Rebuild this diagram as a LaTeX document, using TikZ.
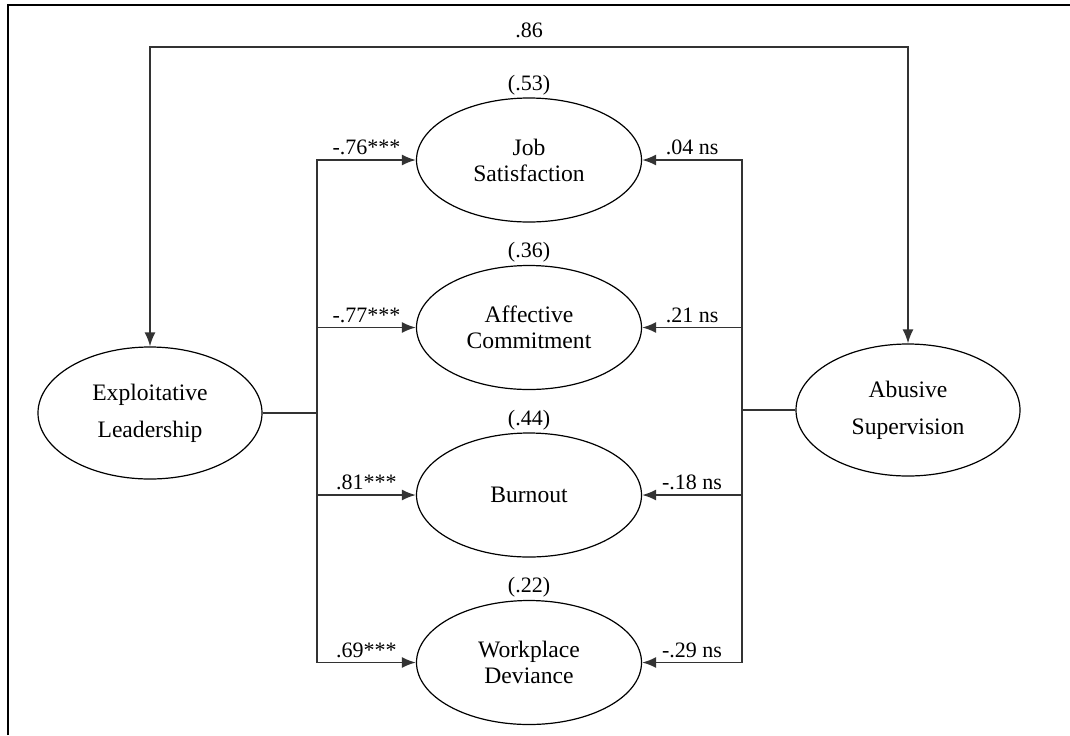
\documentclass[tikz,border=0pt]{standalone}
\usepackage{fontspec}
\setmainfont{Liberation Serif}
\usetikzlibrary{arrows.meta, shapes.geometric}
\definecolor{linegray}{HTML}{333333}

\begin{document}
\begin{tikzpicture}[
            x=0.5pt, y=-0.5pt,
            node distance=83.75pt,
            latent/.style={ellipse, draw=black, line width=0.6pt, align=center,
                        minimum width=112.5pt, minimum height=62pt,
                        font=\fontsize{11.8}{13}\selectfont},
            cause/.style={latent, minimum width=112pt, minimum height=66pt,
                        font=\fontsize{11.8}{18.5}\selectfont},
            link/.style={line width=0.9pt, color=linegray},
            arrow/.style={link, -{Latex[length=7pt, width=5.5pt]}},
            biarrow/.style={link, {Latex[length=7pt, width=5.5pt]}-{Latex[length=7pt, width=5.5pt]}},
            coef/.style={above, inner sep=2pt, text=black, font=\fontsize{11}{12}\selectfont},
            rsq/.style={anchor=south, inner sep=1pt, font=\fontsize{11}{12}\selectfont},
            frame/.style={line width=1.4pt, color=black}
        ]
            \useasboundingbox (0,0) rectangle (1070,735);
            \draw[frame] (8,735) -- (8,5) -- (1070,5);

            \node[cause] (exploit) at (150,413) {Exploitative\\Leadership};
            \node[cause] (abuse) at (908,410) {Abusive\\Supervision};
            \node[latent] (jobsat) at (529,160) {Job\\Satisfaction};
            \node[latent, below of=jobsat] (affcom) {Affective\\Commitment};
            \node[latent, below of=affcom] (burnout) {Burnout};
            \node[latent, below of=burnout] (deviance) {Workplace\\Deviance};

            \node[rsq] (rjobsat) at (jobsat.north) {(.53)};
            \node[rsq] (raffcom) at (affcom.north) {(.36)};
            \node[rsq] (rburnout) at (burnout.north) {(.44)};
            \node[rsq] (rdeviance) at (deviance.north) {(.22)};

            \coordinate (lbus) at (317,413);
            \coordinate (rbus) at (742,410);
            \coordinate (topline) at (0,47);

            \draw[biarrow] (exploit.north) -- (exploit.north |- topline)
                -- node[coef, inner sep=4pt] {.86} (abuse.north |- topline) -- (abuse.north);

            \draw[arrow] (exploit.east) -- (lbus) |- node[coef, pos=0.75] {-.76***} (jobsat.west);
            \draw[arrow] (exploit.east) -- (lbus) |- node[coef, pos=0.75] {-.77***} (affcom.west);
            \draw[arrow] (exploit.east) -- (lbus) |- node[coef, pos=0.75] {.81***} (burnout.west);
            \draw[arrow] (exploit.east) -- (lbus) |- node[coef, pos=0.75] {.69***} (deviance.west);

            \draw[arrow] (abuse.west) -- (rbus) |- node[coef, pos=0.75] {.04 ns} (jobsat.east);
            \draw[arrow] (abuse.west) -- (rbus) |- node[coef, pos=0.75] {.21 ns} (affcom.east);
            \draw[arrow] (abuse.west) -- (rbus) |- node[coef, pos=0.75] {-.18 ns} (burnout.east);
            \draw[arrow] (abuse.west) -- (rbus) |- node[coef, pos=0.75] {-.29 ns} (deviance.east);
        \end{tikzpicture}
\end{document}
